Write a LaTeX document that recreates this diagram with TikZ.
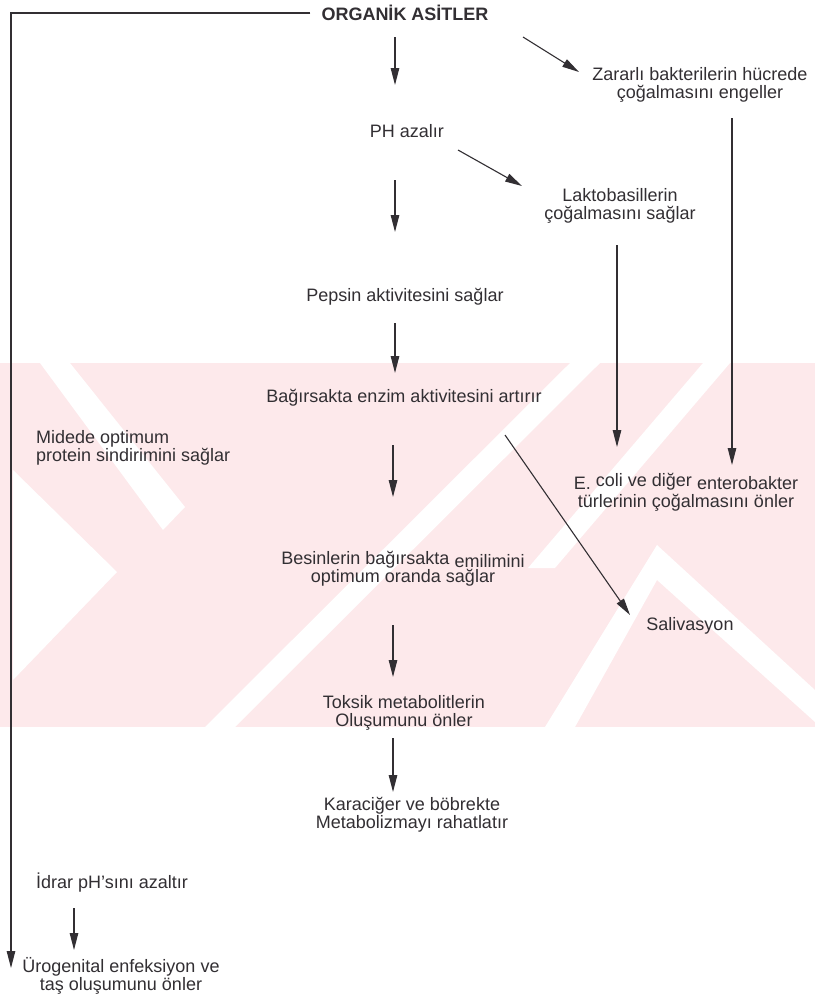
\documentclass[tikz,border=0pt]{standalone}
\usepackage{fontspec}
\setmainfont{Liberation Sans}
\usetikzlibrary{arrows.meta}
\definecolor{wm}{RGB}{253,233,235}
\definecolor{ink}{RGB}{50,47,51}
\begin{document}
\begin{tikzpicture}[x=1pt,y=-1pt,
  lbl/.style={inner sep=0pt, align=center, text=ink, font=\fontsize{18}{18}\selectfont},
  arr/.style={draw=ink, line width=1.1pt, -{Triangle[width=8.5pt,length=17pt]}}]
\useasboundingbox (0,0) rectangle (815,996);
\fill[white] (0,0) rectangle (815,996);
% watermark
\fill[wm] (0,363) rectangle (815,727);
\fill[white] (40,363)--(70,363)--(185,507)--(163,530)--cycle;
\fill[white] (13,470)--(117,572)--(13,680)--cycle;
\fill[white] (205,727)--(235,727)--(600,363)--(570,363)--cycle;
\fill[white] (528,568)--(555,568)--(730,363)--(703,363)--cycle;
\fill[white] (545,727)--(657,545)--(815,690)--(815,722)--(657,580)--(575,727)--cycle;
% nodes
\node[lbl, font=\fontsize{18}{18}\selectfont\bfseries] (title) at (405,13) {ORGANİK ASİTLER};
\node[lbl] (zarar) at (700,85) {Zararlı bakterilerin hücrede\\çoğalmasını engeller};
\node[lbl] (ph) at (407,131) {PH azalır};
\node[lbl] (lakto) at (620,206) {Laktobasillerin\\çoğalmasını sağlar};
\node[lbl] (pepsin) at (405,297) {Pepsin aktivitesini sağlar};
\node[lbl] (bag) at (404,398) {Bağırsakta enzim aktivitesini artırır};
\node[lbl, anchor=west, align=left] (midede) at (36,448) {Midede optimum\\protein sindirimini sağlar};
\node[lbl] (ecoli) at (686,492) {E. \raisebox{3pt}{coli ve diğer} enterobakter\\türlerinin çoğalmasını önler};
\node[lbl] (besin) at (403,569) {Besinlerin bağırsakta \raisebox{-3pt}{emilimini}\\optimum oranda sağlar};
\node[lbl] (saliv) at (690,626) {Salivasyon};
\node[lbl] (toksik) at (404,713) {Toksik metabolitlerin\\Oluşumunu önler};
\node[lbl] (kara) at (412,815) {Karaciğer ve böbrekte\\Metabolizmayı rahatlatır};
\node[lbl, anchor=west] (idrar) at (36,883) {İdrar pH\char"27 sını azaltır};
\node[lbl] (uro) at (121,976) {Ürogenital enfeksiyon ve\\taş oluşumunu önler};
% connector end points
\coordinate (a1s) at (395,37);  \coordinate (a1e) at (395,85);
\coordinate (d1s) at (523,37);  \coordinate (d1e) at (579,72);
\coordinate (a2s) at (395,180); \coordinate (a2e) at (395,232);
\coordinate (d2s) at (458,150); \coordinate (d2e) at (522,186);
\coordinate (a3s) at (395,323); \coordinate (a3e) at (395,373);
\coordinate (vls) at (617,245); \coordinate (vle) at (617,447);
\coordinate (vrs) at (732,118); \coordinate (vre) at (732,465);
\coordinate (a4s) at (393,445); \coordinate (a4e) at (393,497);
\coordinate (d3s) at (505,435); \coordinate (d3e) at (630,615);
\coordinate (a5s) at (393,625); \coordinate (a5e) at (393,677);
\coordinate (a6s) at (393,738); \coordinate (a6e) at (393,792);
\coordinate (a7s) at (74,908);  \coordinate (a7e) at (74,950);
\coordinate (corner) at (11,12); \coordinate (ltip) at (11,968);
% connectors
\draw[arr] (a1s) -- (a1e);
\draw[arr] (d1s) -- (d1e);
\draw[arr] (a2s) -- (a2e);
\draw[arr] (d2s) -- (d2e);
\draw[arr] (a3s) -- (a3e);
\draw[arr] (vls) -- (vle);
\draw[arr] (vrs) -- (vre);
\draw[arr] (a4s) -- (a4e);
\draw[arr] (d3s) -- (d3e);
\draw[arr] (a5s) -- (a5e);
\draw[arr] (a6s) -- (a6e);
\draw[arr] (a7s) -- (a7e);
\draw[arr, shorten <=11pt] (title.west) -- (title.west -| corner) -- (ltip);
\end{tikzpicture}
\end{document}
